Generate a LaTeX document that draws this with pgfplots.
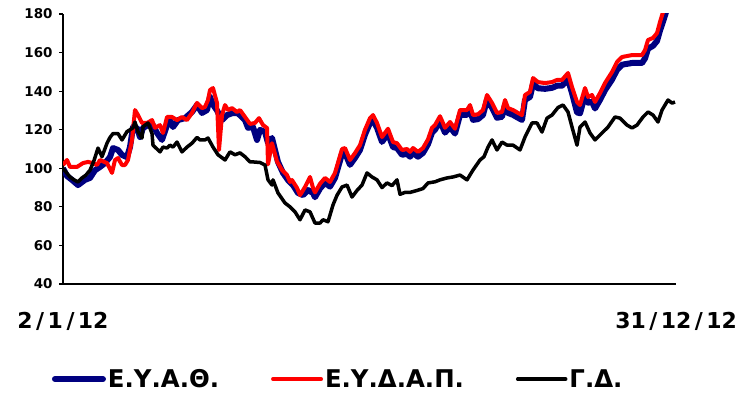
\documentclass[border=0pt]{standalone}
\usepackage{pgfplots}
\pgfplotsset{compat=1.18}
\usepackage{fontspec}
\setmainfont{DejaVu Sans}
\definecolor{navyb}{RGB}{0,0,128}
\begin{document}
\begin{tikzpicture}[x=1bp,y=1bp]
\path[use as bounding box] (0,0) rectangle (745,395);
\begin{axis}[
  at={(63bp,111bp)}, anchor=south west,
  scale only axis, width=613bp, height=270bp,
  xmin=63, xmax=676, ymin=40, ymax=180,
  axis x line*=bottom, axis y line*=left,
  axis line style={line width=1.6bp, black},
  ytick={40,60,...,180},
  tick align=outside, major tick length=4bp,
  tick style={line width=1.2bp, black},
  xtick={63,676},
  xticklabels={2\kern3.5bp/\kern3.5bp1\kern3.5bp/\kern3.5bp12, 31\kern3.5bp/\kern3.5bp12\kern3.5bp/\kern3.5bp12},
  x tick style={draw=none},
  /pgf/number format/assume math mode=true,
  yticklabel style={font=\bfseries\fontsize{13.5}{14}\selectfont, xshift=-3bp},
  xticklabel style={font=\bfseries\fontsize{22}{23}\selectfont, yshift=-21bp},
  line join=round,
  legend columns=3,
  legend style={draw=none, fill=none, inner sep=0pt, outer sep=0pt,
    at={(rel axis cs:-0.018,-0.352)}, anchor=west,
    font=\bfseries\fontsize{24.5}{25}\selectfont,
    nodes={inner sep=2bp},
    /tikz/every even column/.append style={column sep=50bp}},
  legend image code/.code={\draw[#1, line cap=round] (0bp,0bp) -- (48bp,0bp);},
]
\addplot[navyb, line width=6bp] coordinates {
(63,100)(67,96)(72,94)(78,91.3)(85,94)(90,95)(95,99)(100,100.7)(105,102.7)(110,105.8)
(113,110.5)(118,109.5)(122,106.9)(127,105.8)(130,111)(133,121.4)(137,120.9)(140,116.2)(143,120.9)(148,122.4)
(153,122.4)(157,118.3)(162,114.7)(167,122.4)(170,125)(173,121.4)(178,125)(185,126)(192,129.2)(197,132.8)
(202,128.7)(207,130.2)(210,137)(213,133)(217,130)(222,125)(227,127.6)(233,128.7)(238,128.5)(245,125)
(248,121)(253,121.4)(257,114.7)(260,119.9)(265,118.8)(268,113.1)(272,115.7)(275,109.5)(278,103.3)(283,97.6)
(288,93.9)(293,91.3)(298,87.2)(303,86.1)(308,88.7)(313,87.2)(315,85)(320,89.5)(325,92.5)(330,90.5)
(335,95)(342,107.5)(345,108)(350,101.8)(355,105.4)(360,109.5)(365,117.5)(370,123.5)(373,125)(377,121)
(382,113.7)(388,118)(393,111)(397,110.5)(402,107)(407,107.5)(410,106)(413,108)(418,106)(423,108)
(428,112.5)(432,118.5)(435,120)(440,124.5)(445,118.5)(450,121.5)(455,118)(460,127.7)(467,127.7)(470,130.3)
(473,125.1)(478,125.5)(483,127.7)(487,135.5)(492,131.4)(497,126.2)(502,126.7)(505,132.9)(508,128.7)(513,127.7)
(518,126.2)(522,125.1)(525,135.5)(530,137)(533,143.8)(538,141.5)(545,141.2)(552,141.7)(557,142.8)(562,142.8)
(568,146)(572,139)(577,129)(580,128.5)(585,138)(588,134)(592,134.5)(595,131)(600,135.5)(605,140.5)
(612,146)(617,151)(622,153.7)(632,154.6)(642,154.6)(645,157)(648,162)(653,163.5)(657,166)(660,171.5)
(663,176)(666,181)(669,186)
};
\addlegendentry{Ε.Υ.Α.Θ.}
\addplot[red, line width=4bp] coordinates {
(63,101.7)(67,104.3)(70,100.7)(77,100.7)(83,102.7)(88,103.3)(93,102.7)(97,101.7)(100,104.3)(107,102.7)
(112,97.6)(115,104.3)(118,105.3)(122,101.7)(125,101.7)(128,104.3)(132,114.7)(135,130.2)(138,127.6)(142,123.5)
(147,123.5)(152,125)(155,121)(160,122.4)(163,118.3)(167,126.6)(172,126.6)(177,125)(182,126.6)(187,125)
(192,128.7)(197,133.9)(202,131.2)(205,131.8)(208,135.4)(210,140.6)(213,141.6)(217,133.9)(219,109.5)(222,127.6)
(225,132.8)(228,130.2)(232,131.2)(237,129.2)(240,130.2)(245,126.6)(250,123)(255,123.5)(259,126)(263,122.4)
(267,120.9)(268,102)(272,113)(277,103.5)(282,99.1)(287,96.5)(290,92.9)(292,93.9)(297,89.8)(300,86.1)
(302,87.7)(305,90.3)(310,95.5)(313,89.8)(315,87.5)(320,92)(325,95)(330,92.9)(335,97.6)(342,110)
(345,110.5)(350,104.3)(355,107.9)(360,112)(365,120)(370,126)(373,127.6)(377,123.5)(382,116.2)(388,120.5)
(393,113.6)(397,113)(402,109.5)(407,110)(410,108.5)(413,110.5)(418,108.5)(423,110.5)(428,115)(432,121)
(435,122.4)(440,127)(445,121)(450,124)(455,120.5)(460,130.2)(467,130.2)(470,132.8)(473,127.6)(478,128)
(483,130.2)(487,138)(492,133.9)(497,128.7)(502,129.2)(505,135.4)(508,131.2)(513,130.2)(518,128.7)(522,127.6)
(525,138)(530,139.6)(533,146.8)(538,144.7)(545,144.2)(552,144.7)(557,145.8)(562,145.8)(568,149.4)(572,142.1)
(577,134.4)(580,132.8)(585,141.6)(588,137)(592,138)(595,134.4)(600,139)(605,144.2)(612,149.9)(617,155.1)
(622,157.7)(632,158.7)(642,158.7)(645,161.3)(648,166.5)(653,167.6)(657,170.1)(660,175.9)(663,181)(666,186)
};
\addlegendentry{Ε.Υ.Δ.Α.Π.}
\addplot[black, line width=3.5bp] coordinates {
(63,100)(66,98)(70,95.5)(74,94)(78,92.9)(82,95)(86,96.5)(90,99)(94,104)(98,110.5)
(102,106)(107,113)(110,116)(113,118)(118,118)(122,114.7)(127,119)(133,121)(135,124)(138,119)
(142,115.7)(143,121.5)(148,123.5)(152,118)(153,112)(157,110)(160,108.5)(163,111)(167,110.5)(170,112)
(173,111)(177,113.6)(182,108.5)(187,111)(192,113)(197,116)(200,114.7)(205,114.7)(208,115.7)(213,111)
(218,107)(222,105.5)(225,104.3)(230,108.5)(235,107)(240,108)(245,106)(250,103.3)(253,103.3)(260,103)
(265,101.7)(268,94)(272,91.3)(273,94)(278,87.2)(285,82)(290,80)(295,77.4)(300,73.3)(305,78.4)
(310,77.4)(315,71.6)(320,71.6)(323,73.3)(328,72.3)(333,81)(337,86)(342,90.3)(347,91.3)(352,85.1)
(357,88.5)(362,91.3)(367,97.6)(372,95.5)(377,94)(382,90)(387,92.4)(392,91)(397,94)(400,86.5)
(405,87.5)(410,87.5)(417,88.5)(423,89.5)(428,92.4)(435,93)(440,94)(447,95)(453,95.5)(460,96.5)
(467,94)(473,99.1)(480,104.3)(484,106)(488,111)(492,114.7)(497,109.5)(502,113.6)(507,112)(513,112)
(520,109.5)(525,116.2)(532,123.5)(537,123.5)(542,118.8)(547,126)(552,127.6)(558,131.5)(563,132.8)(568,129.2)
(572,121.4)(577,112)(580,121.4)(585,124)(590,118.3)(595,114.7)(602,118.3)(608,121.4)(615,126.6)(620,126)
(627,122.4)(632,120.9)(637,122.4)(643,126.6)(648,129.2)(653,127.6)(658,124)(662,130.2)(668,135.4)(672,133.8)
(675,134.4)
};
\addlegendentry{Γ.Δ.}
\end{axis}
\end{tikzpicture}
\end{document}
